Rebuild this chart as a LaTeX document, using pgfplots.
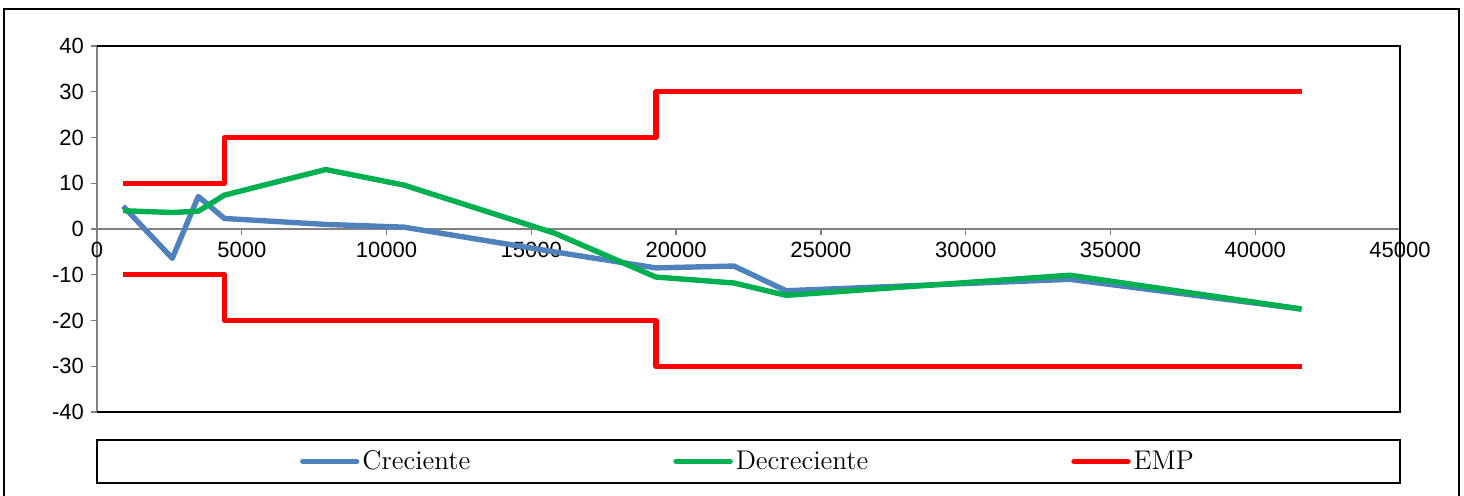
\documentclass[border=0pt]{standalone}
\usepackage{pgfplots}
\pgfplotsset{compat=1.18}
\usepackage{fontspec}
\newfontfamily\arialfont{Liberation Sans}
\definecolor{creciente}{HTML}{4F81BD}
\definecolor{decreciente}{HTML}{00B050}
\definecolor{emp}{HTML}{FF0000}

\begin{document}
\begin{tikzpicture}
\begin{axis}[
    at={(0,0)}, anchor=south west,
    scale only axis,
    width=651.5pt, height=183pt,
    xmin=0, xmax=45000, ymin=-40, ymax=40,
    xtick={0,5000,...,45000},
    ytick={-40,-30,...,40},
    axis x line*=middle, axis y line*=left,
    axis line style={gray, line width=0.7pt, -},
    tick align=outside,
    major tick length=3pt,
    tick style={gray, line width=0.7pt},
    hide obscured x ticks=false, hide obscured y ticks=false,
    scaled x ticks=false,
    /pgf/number format/assume math mode=true,
    /pgf/number format/1000 sep={},
    ticklabel style={font=\arialfont\fontsize{11}{13}\selectfont},
    clip=false,
    legend columns=3,
    legend style={at={(0.5,-0.1352)}, anchor=center, draw=none, fill=none,
        font=\fontsize{13.5}{15}\selectfont,
        nodes={inner sep=1.5pt},
        /tikz/every even column/.append style={column sep=100pt}},
    legend image code/.code={\draw[#1, line cap=round] (0pt,0pt) -- (27pt,0pt);},
    every axis plot/.append style={line width=2.7pt, line join=round},
]
\draw[black, line width=0.8pt] (rel axis cs:0,0) -- (rel axis cs:1,0) -- (rel axis cs:1,1) -- (rel axis cs:0,1);
\coordinate (SW) at (rel axis cs:0,0);

\addplot[creciente] coordinates {
  (900,5.0) (2600,-6.4) (3500,7.1) (4400,2.3) (7900,1.0) (10600,0.4)
  (15800,-5.0) (19300,-8.5) (22000,-8.1) (23800,-13.5) (33600,-11.0) (41600,-17.5)
};
\addlegendentry{Creciente}

\addplot[decreciente] coordinates {
  (900,4.0) (2600,3.6) (3500,3.9) (4400,7.4) (7900,13.0) (10600,9.6)
  (15800,-0.9) (19300,-10.5) (22000,-11.8) (23800,-14.5) (33600,-10.1) (41600,-17.5)
};
\addlegendentry{Decreciente}

\addplot[emp] coordinates {
  (900,10) (4400,10) (4400,20) (19300,20) (19300,30) (41600,30)
};
\addlegendentry{EMP}

\addplot[emp, forget plot] coordinates {
  (900,-10) (4400,-10) (4400,-20) (19300,-20) (19300,-30) (41600,-30)
};

\draw[black, line width=0.8pt] ([yshift=-14pt]rel axis cs:0,0) rectangle ([yshift=-35.5pt]rel axis cs:1,0);
\end{axis}
\draw[black, line width=1pt] ([shift={(-46.5pt,-60pt)}]SW) -- ([shift={(-46.5pt,201.5pt)}]SW)
    -- ([shift={(681pt,201.5pt)}]SW) -- ([shift={(681pt,-60pt)}]SW);
\pgfresetboundingbox
\path ([shift={(-48.5pt,-42pt)}]SW) rectangle ([shift={(683.5pt,206pt)}]SW);
\end{tikzpicture}
\end{document}
